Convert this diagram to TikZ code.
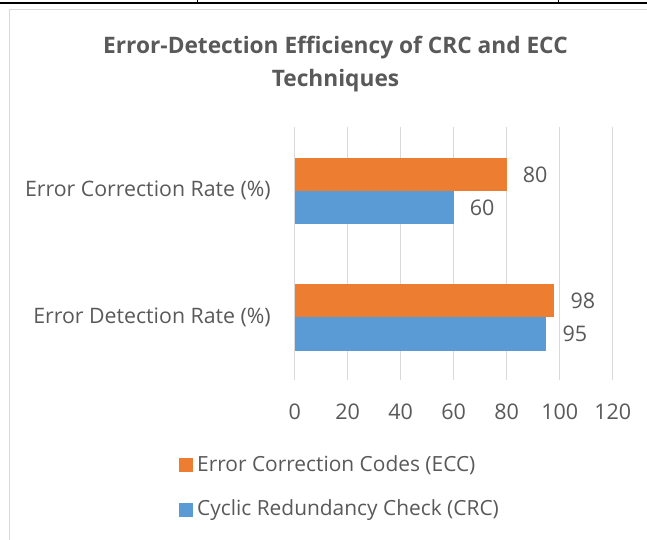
\documentclass[tikz,border=0pt]{standalone}
\usepackage{fontspec}
\setmainfont{Open Sans}
\usetikzlibrary{positioning}
\definecolor{ecc}{HTML}{ED7D31}
\definecolor{crc}{HTML}{5B9BD5}
\definecolor{txtgray}{HTML}{595959}
\definecolor{gridgray}{HTML}{D9D9D9}
\newcommand{\xo}{294.7}
\newcommand{\unitw}{2.65}

\begin{document}
\begin{tikzpicture}[
    x=1pt, y=-1pt,
    every node/.style={text=txtgray, inner sep=0pt, font=\fontsize{21.3}{25}\selectfont},
    gridline/.style={draw=gridgray, line width=1.3pt},
    ticklabel/.style={font=\fontsize{21.5}{25}\selectfont},
    vallabel/.style={font=\fontsize{21.5}{25}\selectfont},
    catlabel/.style={anchor=east},
    legtext/.style={font=\fontsize{20.9}{25}\selectfont},
    legkey/.style={minimum width=14pt, minimum height=14pt}
]
    \clip (0,0) rectangle (647,540);
    % table rule above the chart
    \draw[line width=2pt] (0,2.7) -- (647,2.7);
    \draw[line width=1.3pt] (197.7,0) -- (197.7,3.7) (558.3,0) -- (558.3,3.7);
    % chart area
    \draw[gridgray, line width=1.3pt] (9.3,560) -- (9.3,9.2) -- (660,9.2);

    \node[font=\bfseries\fontsize{22.7}{33}\selectfont, align=center] (title) at (335.5,64)
        {Error-Detection Efficiency of CRC and ECC\\Techniques};

    \foreach \v in {0,20,...,120} {
        \draw[gridline] ({\xo+\unitw*\v},127) -- ({\xo+\unitw*\v},380);
        \node[ticklabel] (tick\v) at ({\xo+\unitw*\v},412) {\v};
    }

    \foreach \name/\col/\ytop/\val in {ecc1/ecc/157.7/80, crc1/crc/191/60, ecc2/ecc/284/98, crc2/crc/317.3/95} {
        \fill[\col] ({\xo},{\ytop}) rectangle ({\xo+\unitw*\val},{\ytop+33.3});
        \coordinate (\name) at ({\xo+\unitw*\val},{\ytop+16.65});
        \node[vallabel, right=16pt of \name] (\name val) {\val};
    }

    \node[catlabel] (corr) at (271,190.5) {Error Correction Rate (\%)};
    \node[catlabel] (det) at (271,317) {Error Detection Rate (\%)};

    % legend
    \node[legkey, fill=ecc] (keyecc) at (186.3,465.3) {};
    \node[legtext, right=3.5pt of keyecc] (legecc) {Error Correction Codes (ECC)};
    \node[legkey, fill=crc] (keycrc) at (186.3,510.3) {};
    \node[legtext, right=3.5pt of keycrc] (legcrc) {Cyclic Redundancy Check (CRC)};
\end{tikzpicture}
\end{document}
